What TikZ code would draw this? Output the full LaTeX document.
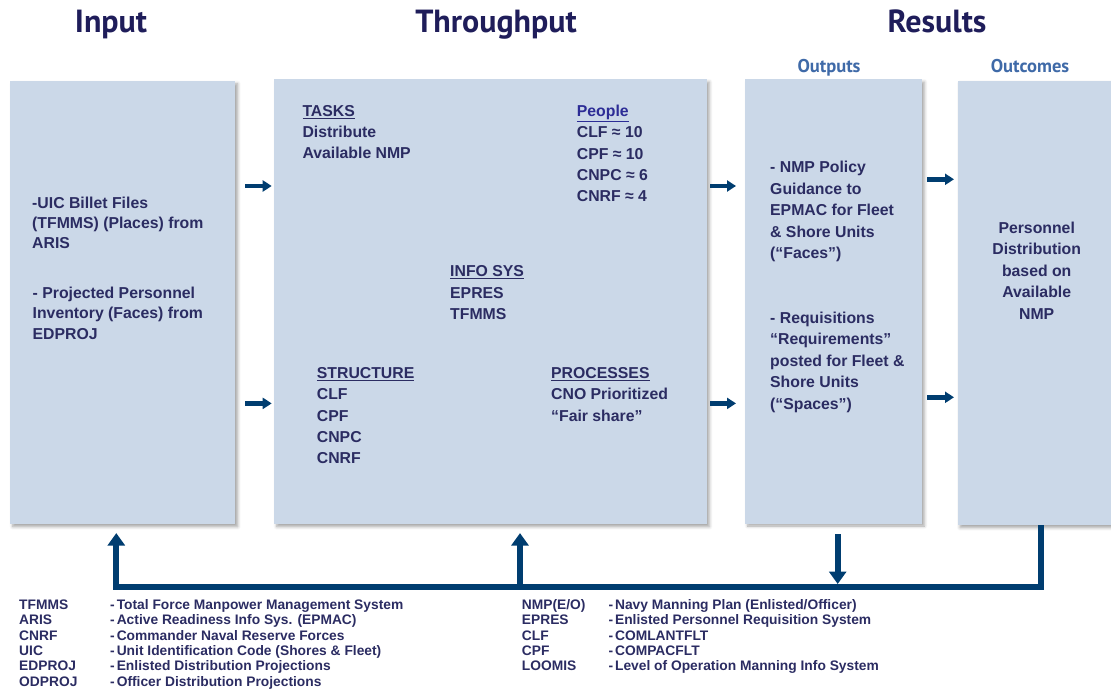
\documentclass[tikz,border=0pt]{standalone}
\usepackage{fontspec}
\setmainfont{Liberation Sans}
\newfontfamily\titlefont{PT Sans}
\usetikzlibrary{arrows.meta,shadows.blur,calc}
\definecolor{boxfill}{RGB}{203,216,232}
\definecolor{navy}{RGB}{43,44,98}
\definecolor{titlec}{RGB}{31,29,90}
\definecolor{subc}{RGB}{63,106,168}
\definecolor{arrowc}{RGB}{0,61,112}
\definecolor{peoplec}{RGB}{44,44,150}
\newcommand\legdash{-\kern2pt}
\tikzset{
  panel/.style={fill=boxfill, draw=none, inner sep=0pt, anchor=north west,
    blur shadow={shadow xshift=2.5pt, shadow yshift=-2.5pt, shadow blur radius=3pt, shadow opacity=35}},
  txt/.style={anchor=north west, inner sep=0pt, align=left, text=navy,
    font=\fontsize{15.8}{21.3}\selectfont\bfseries},
  txtin/.style={txt, font=\fontsize{15.8}{20.2}\selectfont\bfseries},
  txtout/.style={txt, font=\fontsize{15.8}{21.5}\selectfont\bfseries},
  bigtitle/.style={anchor=base, inner sep=0pt, text=titlec, font=\titlefont\bfseries\fontsize{32}{38}\selectfont},
  subtitle/.style={anchor=base, inner sep=0pt, text=subc, font=\titlefont\bfseries\fontsize{18.5}{22}\selectfont},
  leg/.style={anchor=north west, inner sep=0pt, align=left, text=navy,
    font=\fontsize{13.8}{15.3}\selectfont\bfseries},
  sarrow/.style={draw=arrowc, line width=4.5pt, -{Triangle[length=9pt,width=11pt]}},
  fb/.style={draw=arrowc, line width=6pt, line join=miter},
  fbtip/.style={fb, -{Triangle[length=12.5pt,width=17pt]}}
}
\begin{document}
\begin{tikzpicture}[x=1pt,y=-1pt]
\useasboundingbox (0,0) rectangle (1111,692);

% titles
\node[bigtitle] (tin) at (111,33) {Input};
\node[bigtitle] (tthr) at (496,33) {Throughput};
\node[bigtitle] (tres) at (937,33) {Results};
\node[subtitle] (tout) at (829,72.3) {Outputs};
\node[subtitle] (toutc) at (1030,72.3) {Outcomes};

% panels
\node[panel, minimum width=225pt, minimum height=443pt] (input) at (10,81) {};
\node[panel, minimum width=432.7pt, minimum height=444.7pt] (throughput) at (274,79.3) {};
\node[panel, minimum width=176.7pt, minimum height=444pt] (outputs) at (745,79.3) {};
\node[panel, minimum width=170pt, minimum height=444.3pt] (outcomes) at (957.3,80.7) {};

% input text
\node[txtin] (in1) at (32,193.7) {\strut-UIC Billet Files\\(TFMMS) (Places) from\\ARIS};
\node[txtin] (in2) at (32.5,284.3) {\strut- Projected Personnel\\Inventory (Faces) from\\EDPROJ};

% throughput text
\node[txt] (tasks) at (302.3,101.1) {\strut\underline{TASKS}\\Distribute\\Available NMP};
\node[txt, font=\fontsize{15.8}{21.4}\selectfont\bfseries] (people) at (576.7,101.1)
  {\strut\textcolor{peoplec}{\underline{People}}\\CLF ≈ 10\\CPF ≈ 10\\CNPC ≈ 6\\CNRF ≈ 4};
\node[txt] (infosys) at (450,261.8) {\strut\underline{INFO SYS}\\EPRES\\TFMMS};
\node[txt] (structure) at (316.7,363.4) {\strut\underline{STRUCTURE}\\CLF\\CPF\\CNPC\\CNRF};
\node[txt] (processes) at (551,363.4) {\strut\underline{PROCESSES}\\CNO Prioritized\\“Fair share”};

% outputs text
\node[txtout] (out1) at (770,157.6) {\strut- NMP Policy\\Guidance to\\EPMAC for Fleet\\\& Shore Units\\(“Faces”)};
\node[txtout] (out2) at (770,308.2) {\strut- Requisitions\\“Requirements”\\posted for Fleet \&\\Shore Units\\(“Spaces”)};

% outcomes text
\node[txtout, anchor=north, align=center] (oc1) at (1036.7,218.2)
  {\strut Personnel\\Distribution\\based on\\Available\\NMP};

% row coordinates
\coordinate (r1) at (0,186);
\coordinate (r2) at (0,403.4);
\coordinate (r3) at (0,179.3);
\coordinate (r4) at (0,397.3);

% small arrows
\draw[sarrow, shorten <=10pt, shorten >=2.3pt] (input.east |- r1) -- (throughput.west |- r1);
\draw[sarrow, shorten <=10pt, shorten >=2.3pt] (input.east |- r2) -- (throughput.west |- r2);
\draw[sarrow, shorten <=3.3pt, shorten >=9pt] (throughput.east |- r1) -- (outputs.west |- r1);
\draw[sarrow, shorten <=3.3pt, shorten >=9pt] (throughput.east |- r2) -- (outputs.west |- r2);
\draw[sarrow, shorten <=5.3pt, shorten >=3.3pt] (outputs.east |- r3) -- (outcomes.west |- r3);
\draw[sarrow, shorten <=5.3pt, shorten >=3.3pt] (outputs.east |- r4) -- (outcomes.west |- r4);

% feedback loop
\coordinate (fbl) at (116.3,587);
\coordinate (fbm) at (520,587);
\coordinate (fbd) at (837.7,587);
\coordinate (fbr) at (1040.7,587);
\draw[fbtip, shorten >=8.7pt] (outcomes.south -| fbr) -- (fbr) -- (fbl) -- (input.south -| fbl);
\draw[fbtip, shorten >=8.7pt] (fbm) -- (throughput.south -| fbm);
\draw[fbtip, shorten <=10.7pt, shorten >=3pt] (outputs.south -| fbd) -- (fbd);

% legend
\node[leg] (legLa) at (19,598.6) {\strut TFMMS\\ARIS\\CNRF\\UIC\\EDPROJ\\ODPROJ};
\node[leg] (legLb) at (110,598.6) {\strut \legdash Total Force Manpower Management System\\\legdash Active Readiness Info Sys. (EPMAC)\\\legdash Commander Naval Reserve Forces\\\legdash Unit Identification Code (Shores \& Fleet)\\\legdash Enlisted Distribution Projections\\\legdash Officer Distribution Projections};
\node[leg] (legRa) at (521.7,598.6) {\strut NMP(E/O)\\EPRES\\CLF\\CPF\\LOOMIS};
\node[leg] (legRb) at (608.3,598.6) {\strut \legdash Navy Manning Plan (Enlisted/Officer)\\\legdash Enlisted Personnel Requisition System\\\legdash COMLANTFLT\\\legdash COMPACFLT\\\legdash Level of Operation Manning Info System};
\end{tikzpicture}
\end{document}
